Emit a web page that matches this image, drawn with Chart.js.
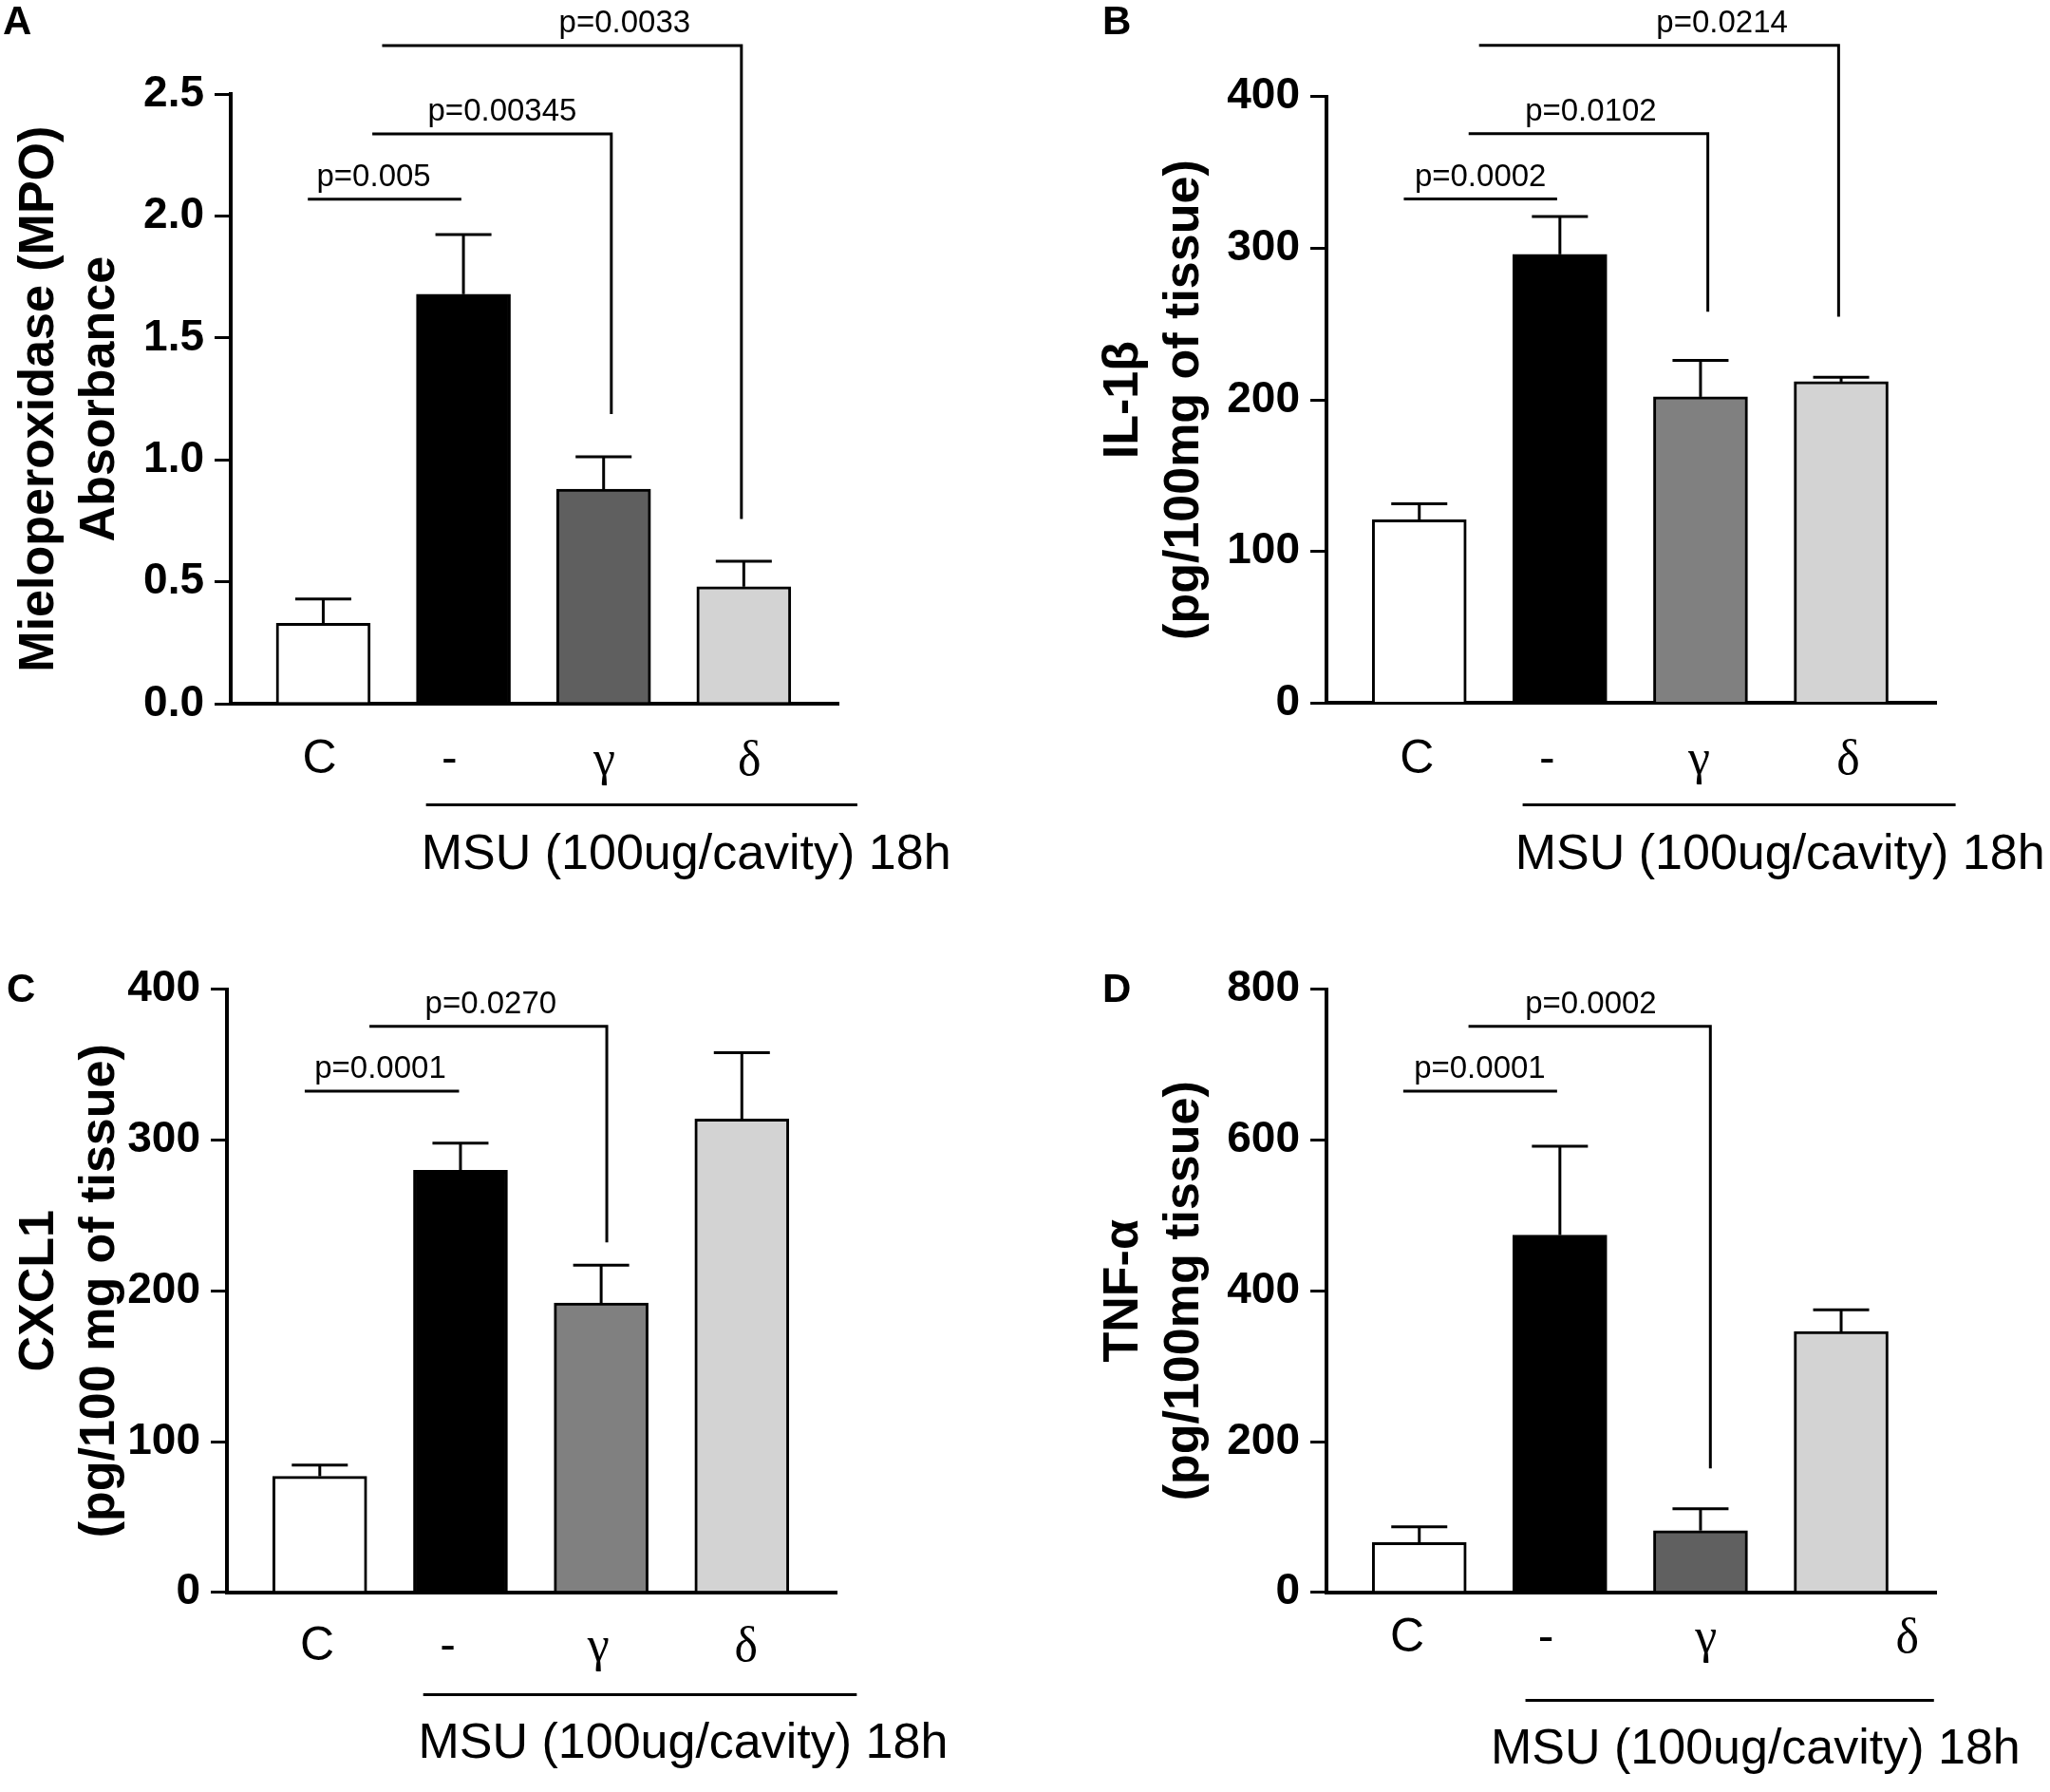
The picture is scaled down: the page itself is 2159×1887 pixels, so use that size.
<!DOCTYPE html>
<html>
<head>
<meta charset="utf-8">
<title>MPO, IL-1β, CXCL1, TNF-α</title>
<script src="https://cdn.jsdelivr.net/npm/chart.js@4.4.0/dist/chart.umd.min.js"></script>
<style>
  html, body { margin: 0; padding: 0; background: #fff; }
  #figura { position: relative; width: 2159px; height: 1887px; }
  #figura canvas { position: absolute; }
</style>
</head>
<body>
<div id="figura">
  <canvas id="painelA" width="1080" height="940" style="left:0;top:0;width:1080px;height:940px"></canvas>
  <canvas id="painelB" width="1079" height="940" style="left:1080px;top:0;width:1079px;height:940px"></canvas>
  <canvas id="painelC" width="1080" height="947" style="left:0;top:940px;width:1080px;height:947px"></canvas>
  <canvas id="painelD" width="1079" height="947" style="left:1080px;top:940px;width:1079px;height:947px"></canvas>
</div>
<script>
// ================================
// DADOS
// ================================
const categorias = ["C", "-", "γ", "δ"];

const mpoMedia = [0.33, 1.68, 0.88, 0.48];
const mpoErro = [0.10, 0.245, 0.133, 0.104];
const mpoTicks = ["0.0", "0.5", "1.0", "1.5", "2.0", "2.5"];
const mpoP = ["p=0.005", "p=0.00345", "p=0.0033"];

const il1bMedia = [121, 296, 202, 212];
const il1bErro = [10.5, 25, 24, 3];
const il1bTicks = ["0", "100", "200", "300", "400"];
const il1bP = ["p=0.0002", "p=0.0102", "p=0.0214"];

const cxcl1Media = [77, 280, 192, 314];
const cxcl1Erro = [7.5, 18, 25, 44];
const cxcl1Ticks = ["0", "100", "200", "300", "400"];
const cxcl1P = ["p=0.0001", "p=0.0270"];

const tnfMedia = [66, 474, 82, 346];
const tnfErro = [21, 118, 29, 29];
const tnfTicks = ["0", "200", "400", "600", "800"];
const tnfP = ["p=0.0001", "p=0.0002"];

const textoMSU = "MSU (100ug/cavity) 18h";

// ================================
// ESTILO
// ================================
const SANS = "'Liberation Sans', Arial, Helvetica, sans-serif";
const SERIF = "'Liberation Serif', 'Times New Roman', serif";
const X_MIN = -0.66;
const X_MAX = 3.675;
const LARGURA_BARRA = 99;
const MEIO_CAPA = 29.5;

const fonteLatina = { family: SANS, size: 50, lineHeight: 1.2 };
const fonteGrega = { family: SERIF, size: 52, lineHeight: 1.2 };

const paineis = [
  {
    id: "painelA", letra: "A", letraPos: [3, 36],
    area: { left: 243, right: 883, top: 99.3, bottom: 741 },
    medias: mpoMedia, erros: mpoErro, ticks: mpoTicks,
    cores: ["#ffffff", "#000000", "#5f5f5f", "#d3d3d3"],
    tituloY: ["Mieloperoxidase (MPO)", "Absorbance"], padTitulo: 9.6,
    posRotulos: [-0.026, 0.90, 2.005, 3.04], padRotulos: 29.7,
    colchetes: [
      { de: -0.11, ate: 0.985, y: 2.07, desce: null, tx: 0.36, texto: mpoP[0] },
      { de: 0.35, ate: 2.055, y: 2.338, desce: 1.188, tx: 1.277, texto: mpoP[1] },
      { de: 0.42, ate: 2.983, y: 2.70, desce: 0.758, tx: 2.15, texto: mpoP[2] },
    ],
    msu: { x1: 0.733, x2: 3.81, dy: 106.6, tx: 0.70, ty: 174 },
  },
  {
    id: "painelB", letra: "B", letraPos: [81, 36],
    area: { left: 317, right: 959, top: 101.8, bottom: 740.4 },
    medias: il1bMedia, erros: il1bErro, ticks: il1bTicks,
    cores: ["#ffffff", "#000000", "#808080", "#d3d3d3"],
    tituloY: ["IL-1β", "(pg/100mg of tissue)"], padTitulo: 71.7,
    posRotulos: [-0.016, 0.909, 1.99, 3.05], padRotulos: 29.9,
    colchetes: [
      { de: -0.11, ate: 0.98, y: 332.5, desce: null, tx: 0.435, texto: il1bP[0] },
      { de: 0.351, ate: 2.052, y: 375.6, desce: 258.2, tx: 1.22, texto: il1bP[1] },
      { de: 0.425, ate: 2.982, y: 433.8, desce: 254.8, tx: 2.153, texto: il1bP[2] },
    ],
    msu: { x1: 0.735, x2: 3.814, dy: 107.2, tx: 0.682, ty: 174.6 },
  },
  {
    id: "painelC", letra: "C", letraPos: [7, 115],
    area: { left: 239, right: 881.3, top: 101.8, bottom: 736.8 },
    medias: cxcl1Media, erros: cxcl1Erro, ticks: cxcl1Ticks,
    cores: ["#ffffff", "#000000", "#808080", "#d3d3d3"],
    tituloY: ["CXCL1", "(pg/100 mg of tissue)"], padTitulo: 9.6,
    posRotulos: [-0.018, 0.91, 1.98, 3.03], padRotulos: 27.5,
    colchetes: [
      { de: -0.107, ate: 0.99, y: 332.5, desce: null, tx: 0.43, texto: cxcl1P[0] },
      { de: 0.353, ate: 2.04, y: 375.5, desce: 232.1, tx: 1.215, texto: cxcl1P[1] },
    ],
    msu: { x1: 0.735, x2: 3.817, dy: 107.8, tx: 0.70, ty: 173.7 },
  },
  {
    id: "painelD", letra: "D", letraPos: [81, 115],
    area: { left: 317, right: 959, top: 101.8, bottom: 736.8 },
    medias: tnfMedia, erros: tnfErro, ticks: tnfTicks,
    cores: ["#ffffff", "#000000", "#606060", "#d3d3d3"],
    tituloY: ["TNF-α", "(pg/100mg tissue)"], padTitulo: 71.7,
    posRotulos: [-0.086, 0.90, 2.04, 3.47], padRotulos: 18.6,
    colchetes: [
      { de: -0.114, ate: 0.98, y: 664.9, desce: null, tx: 0.43, texto: tnfP[0] },
      { de: 0.35, ate: 2.07, y: 750.9, desce: 164.5, tx: 1.22, texto: tnfP[1] },
    ],
    msu: { x1: 0.755, x2: 3.66, dy: 113.8, tx: 0.508, ty: 179.7 },
  },
];

// ================================
// PLUGIN: erros, colchetes, MSU, letra
// ================================
function linha(ctx, x1, y1, x2, y2) {
  ctx.beginPath();
  ctx.moveTo(x1, y1);
  ctx.lineTo(x2, y2);
  ctx.stroke();
}

function pluginAnotacoes(painel) {
  return {
    id: "anotacoes",
    afterDraw(chart) {
      const { ctx, chartArea } = chart;
      const x = chart.scales.x;
      const y = chart.scales.y;
      ctx.save();
      ctx.strokeStyle = "#000";
      ctx.fillStyle = "#000";
      ctx.lineWidth = 3;

      // barras de erro (só para cima)
      painel.medias.forEach((m, i) => {
        const px = x.getPixelForValue(i);
        const yBarra = y.getPixelForValue(m);
        const yErro = y.getPixelForValue(m + painel.erros[i]);
        linha(ctx, px, yBarra, px, yErro);
        linha(ctx, px - MEIO_CAPA, yErro, px + MEIO_CAPA, yErro);
      });

      // colchetes de significância
      ctx.font = "33px " + SANS;
      ctx.textAlign = "center";
      ctx.textBaseline = "alphabetic";
      painel.colchetes.forEach((c) => {
        const yl = y.getPixelForValue(c.y);
        const x2 = x.getPixelForValue(c.ate);
        ctx.beginPath();
        ctx.moveTo(x.getPixelForValue(c.de), yl);
        ctx.lineTo(x2, yl);
        if (c.desce !== null) ctx.lineTo(x2, y.getPixelForValue(c.desce));
        ctx.stroke();
        ctx.fillText(c.texto, x.getPixelForValue(c.tx), yl - 14);
      });

      // linha e texto do MSU
      const m = painel.msu;
      const yLinha = chartArea.bottom + m.dy;
      linha(ctx, x.getPixelForValue(m.x1), yLinha, x.getPixelForValue(m.x2), yLinha);
      ctx.font = "52px " + SANS;
      ctx.textAlign = "left";
      ctx.fillText(textoMSU, x.getPixelForValue(m.tx), chartArea.bottom + m.ty);

      // letra do painel
      ctx.font = "bold 42px " + SANS;
      ctx.fillText(painel.letra, painel.letraPos[0], painel.letraPos[1]);
      ctx.restore();
    },
  };
}

// ================================
// CRIAÇÃO DOS GRÁFICOS
// ================================
function criarPainel(painel) {
  const canvas = document.getElementById(painel.id);
  const W = canvas.width;
  const H = canvas.height;
  const area = painel.area;
  const yMax = parseFloat(painel.ticks[painel.ticks.length - 1]);

  new Chart(canvas, {
    type: "bar",
    data: {
      datasets: [
        {
          data: painel.medias.map((v, i) => ({ x: i, y: v })),
          backgroundColor: painel.cores,
          borderColor: "#000",
          borderWidth: 3,
          barThickness: LARGURA_BARRA,
        },
      ],
    },
    options: {
      responsive: false,
      animation: false,
      devicePixelRatio: 1,
      events: [],
      layout: { padding: { left: 0, top: area.top, right: W - area.right, bottom: 0 } },
      plugins: { legend: { display: false }, tooltip: { enabled: false } },
      scales: {
        x: {
          type: "linear",
          min: X_MIN,
          max: X_MAX,
          bounds: "data",
          offset: false,
          afterFit: (s) => { s.height = H - area.bottom; },
          afterBuildTicks: (s) => { s.ticks = painel.posRotulos.map((v) => ({ value: v })); },
          grid: { display: false, drawTicks: false },
          border: { display: true, color: "#000", width: 4 },
          ticks: {
            autoSkip: false,
            maxRotation: 0,
            minRotation: 0,
            color: "#000",
            padding: painel.padRotulos,
            callback: (v, i) => categorias[i],
            font: (ctx) => (ctx.index >= 2 ? fonteGrega : fonteLatina),
          },
        },
        y: {
          min: 0,
          max: yMax,
          afterFit: (s) => { s.width = area.left; },
          afterBuildTicks: (s) => { s.ticks = painel.ticks.map((t) => ({ value: parseFloat(t) })); },
          grid: { drawOnChartArea: false, drawTicks: true, tickLength: 17, color: "#000", lineWidth: 3 },
          border: { display: true, color: "#000", width: 4 },
          ticks: {
            color: "#000",
            padding: 11,
            font: { family: SANS, size: 46, weight: "bold" },
            callback: (v, i) => painel.ticks[i],
          },
          title: {
            display: true,
            text: painel.tituloY,
            color: "#000",
            font: { family: SANS, size: 52, weight: "bold", lineHeight: 64 / 52 },
            padding: { top: painel.padTitulo, bottom: 0 },
          },
        },
      },
    },
    plugins: [pluginAnotacoes(painel)],
  });
}

document.addEventListener("DOMContentLoaded", () => {
  paineis.forEach(criarPainel);
});
</script>
</body>
</html>
